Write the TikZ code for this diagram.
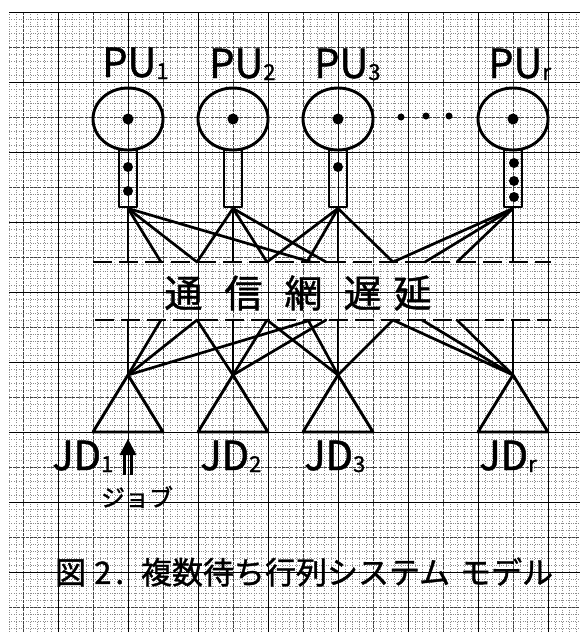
\documentclass[tikz,border=0pt]{standalone}
\usepackage{fontspec}
\newfontfamily\jp{Noto Sans CJK JP}[FakeBold=1.2]
\usetikzlibrary{shapes.geometric}
\newcommand\mysub[1]{\raisebox{-2pt}{\fontsize{22}{22}\selectfont #1}}
\tikzset{
  minorgrid/.style={black!45, line width=0.45pt, dash pattern=on 1pt off 1.4pt},
  midgrid/.style={black!75, line width=0.6pt, dash pattern=on 3pt off 1.2pt},
  majorgrid/.style={black, line width=0.9pt},
  ink/.style={line width=2.9pt, line cap=round, line join=round},
  pu/.style={ellipse, draw, ink, minimum width=70pt, minimum height=62pt, inner sep=0pt},
  queue/.style={rectangle, draw, ink, minimum width=18pt, minimum height=57pt, inner sep=0pt},
  conn/.style={line width=2.7pt, line cap=round},
  netline/.style={line width=2.9pt, dash pattern=on 19pt off 7pt},
  tri/.style={ink},
  lbl/.style={font=\jp\fontsize{40}{40}\selectfont, anchor=base west, inner sep=0pt},
}
\begin{document}
\begin{tikzpicture}[x=1pt,y=-1pt]
\useasboundingbox (0,0) rectangle (580,632);
\fill[white] (0,0) rectangle (580,632);
% graph paper
\foreach \x in {9,16,...,580} \draw[minorgrid] (\x,12) -- (\x,632);
\foreach \y in {12,19,...,632} \draw[minorgrid] (9,\y) -- (580,\y);
\foreach \x in {23,93,...,580} \draw[midgrid] (\x,12) -- (\x,632);
\foreach \y in {47,117,...,632} \draw[midgrid] (9,\y) -- (580,\y);
\foreach \x in {58,128,...,580} \draw[majorgrid] (\x,12) -- (\x,632);
\foreach \y in {12,82,...,632} \draw[majorgrid] (9,\y) -- (580,\y);

% processing units
\foreach \i/\x in {1/128,2/233,3/338,4/513}{
  \node[pu] (pu\i) at (\x,119) {};
  \fill (pu\i.center) circle (5.5);
  \node[queue] (q\i) at (\x,178.5) {};
}
\fill (128,167) circle (5) (128,191) circle (5);
\fill (338,167) circle (5);
\fill (514,163) circle (5) (514,181) circle (5) (514,197) circle (5);
\fill (401,117) circle (3.5) (426,116) circle (3.5) (449,116) circle (3.5);

\node[lbl] (l1) at (102,77) {PU\mysub{1}};
\node[lbl] (l2) at (209,78) {PU\mysub{2}};
\node[lbl] (l3) at (314,78) {PU\mysub{3}};
\node[lbl] (l4) at (488,78) {PU\mysub{r}};

% network delay band
\coordinate (nl1) at (93,262); \coordinate (nr1) at (551,262);
\coordinate (nl2) at (95,320); \coordinate (nr2) at (551,320);
\draw[netline] (nl1) -- (nr1);
\draw[netline] (nl2) -- (nr2);
\node[font=\jp\fontsize{38}{38}\selectfont, inner sep=0pt] (net) at (298,293)
  {通\hspace{22pt}信\hspace{22pt}網\hspace{21pt}遅\hspace{12pt}延};

\foreach \x in {128,161,197,233,267,307,311,326,338,393,425,457,513}
  \coordinate (u\x) at (\x,262);
\foreach \x in {128,161,197,233,267,308,311,326,338,393,422,457,513}
  \coordinate (d\x) at (\x,320);

\foreach \i/\x in {1/128,1/161,1/197,1/311,
                   2/197,2/233,2/267,2/326,
                   3/267,3/307,3/338,3/393,
                   4/393,4/425,4/457,4/513}
  \draw[conn] (q\i.south) -- (u\x);

% job dispatchers
\foreach \i/\x in {1/128,2/233,3/338,4/513}{
  \coordinate (jd\i) at (\x,375);
  \draw[tri] (jd\i) -- ++(-35,57) -- ++(70,0) -- cycle;
}
\foreach \i/\x in {1/128,1/161,1/197,1/311,
                   2/197,2/233,2/267,2/326,
                   3/267,3/308,3/338,3/393,
                   4/393,4/422,4/457,4/513}
  \draw[conn] (jd\i) -- (d\x);

\node[lbl] (j1) at (52,470) {JD\mysub{1}};
\node[lbl] (j2) at (200,470) {JD\mysub{2}};
\node[lbl] (j3) at (304,470) {JD\mysub{3}};
\node[lbl] (j4) at (479,470) {JD\mysub{r}};

% job arrival arrow
\coordinate (atip) at (128,439);
\coordinate (abase) at (128,475);
\draw[line width=3pt] ([xshift=-3.3pt]abase) -- ++(0,-24) ([xshift=3.3pt]abase) -- ++(0,-24);
\fill (atip) -- ++(-8.5,16) -- ++(17,0) -- cycle;
\node[font=\jp\fontsize{24}{24}\selectfont, inner sep=0pt] (job) at (137,497) {ジョブ};

% caption
\node[font=\jp\fontsize{31}{31}\selectfont, anchor=west, inner sep=0pt] (cap) at (55,572)
  {図\hspace{8pt}2\hspace{4pt}.\hspace{17pt}複数待ち行列システム\hspace{10pt}モデル};
\end{tikzpicture}
\end{document}
